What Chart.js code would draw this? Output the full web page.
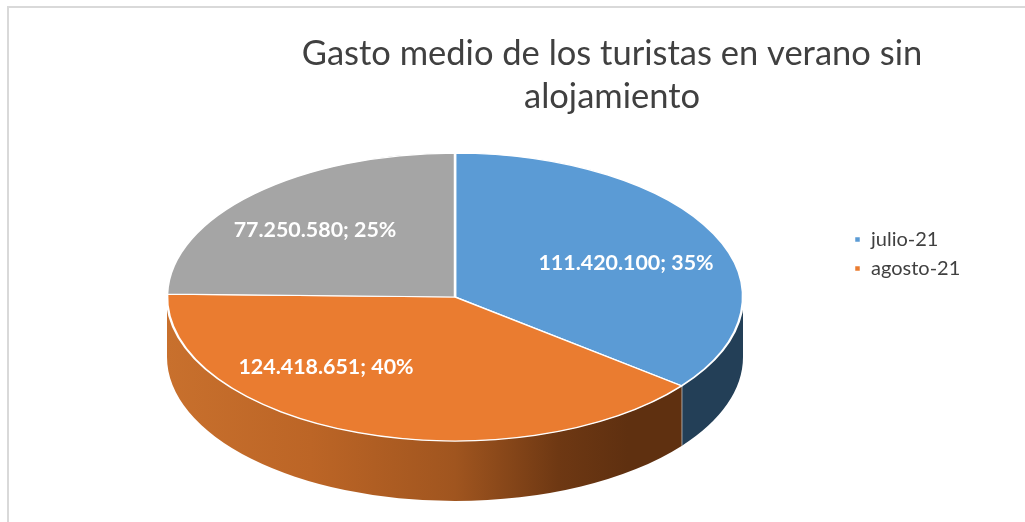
<!DOCTYPE html>
<html>
<head>
<meta charset="utf-8">
<title>Gasto medio de los turistas</title>
<style>
    html, body { margin: 0; background: #fff; }
    canvas { display: block; }
</style>
<script src="https://cdn.jsdelivr.net/npm/chart.js@4/dist/chart.umd.min.js"></script>
</head>
<body>
<canvas id="chart" width="1025" height="522"></canvas>
<script>
// data
const categories = ["julio-21", "agosto-21", "septiembre-21"];
const values = [111420100, 124418651, 77250580];
const percents = [35, 40, 25];   // as printed on the source chart
const titleLines = ["Gasto medio de los turistas en verano sin", "alojamiento"];

// styles
const topColors = ["#5B9BD5", "#EA7C30", "#A5A5A5"];
const FONT = "Lato";
const CX = 455, CY = 297, RX = 288, TILT = 0.5, DEPTH = 60;
const labelAt = [[626, 263], [326, 367], [315, 230]];

const fmt = v => String(v).replace(/\B(?=(\d{3})+$)/g, ".");

// ─── side wall colour per slice ───────────────────────────────────
function sideFill(ctx, i) {
    if (i === 0) return "#233F57";
    if (i === 2) return "#63636A";
    const g = ctx.createLinearGradient(CX - RX, 0, CX + RX, 0);
    g.addColorStop(0, "#C8702D");
    g.addColorStop(0.25, "#BC6526");
    g.addColorStop(0.5, "#A0551F");
    g.addColorStop(0.68, "#6E3813");
    g.addColorStop(0.8, "#5F3010");
    g.addColorStop(1, "#5F3010");
    return g;
}

// ─── Tilted3DPlugin ───────────────────────────────────────────────
const Tilted3DPlugin = {
    id: "tilted3d",
    beforeDraw(chart) {
        const { ctx } = chart;
        ctx.save();
        ctx.fillStyle = "#fff";
        ctx.fillRect(0, 0, chart.width, chart.height);
        ctx.fillStyle = "#D9D9D9";
        ctx.fillRect(7, 6, chart.width - 7, 2);
        ctx.fillRect(7, 6, 2, chart.height - 6);
        ctx.restore();
    },
    afterLayout(chart) {
        // title sits right of the canvas centre, legend is above the pie centre
        chart.titleBlock.left = 200;
        chart.titleBlock.right = 1024;
        chart.titleBlock.top = 32;
        const h = chart.legend.bottom - chart.legend.top;
        chart.legend.left = 845;
        chart.legend.top = 254 - h / 2;
        chart.legend.bottom = 254 + h / 2;
        chart.chartArea.left = CX - RX;
        chart.chartArea.right = CX + RX;
        chart.chartArea.top = CY - RX;
        chart.chartArea.bottom = CY + RX;
        chart.chartArea.width = RX * 2;
        chart.chartArea.height = RX * 2;
    },
    beforeDatasetsDraw(chart) {
        const { ctx } = chart;
        const ry = RX * TILT;
        const arcs = chart.getDatasetMeta(0).data;

        // side walls, only the front half of the ellipse shows
        arcs.forEach((arc, i) => {
            const a0 = Math.max(arc.startAngle, 0);
            const a1 = Math.min(arc.endAngle, Math.PI);
            if (a1 <= a0) return;
            ctx.beginPath();
            ctx.ellipse(CX, CY, RX, ry, 0, a0, a1);
            ctx.ellipse(CX, CY + DEPTH, RX, ry, 0, a1, a0, true);
            ctx.closePath();
            ctx.fillStyle = sideFill(ctx, i);
            ctx.fill();
            if (arc.endAngle > 0 && arc.endAngle < Math.PI - 0.05) {
                const x = CX + RX * Math.cos(arc.endAngle);
                const y = CY + ry * Math.sin(arc.endAngle);
                ctx.beginPath();
                ctx.moveTo(x, y);
                ctx.lineTo(x, y + DEPTH);
                ctx.strokeStyle = "#C9C9C9";
                ctx.lineWidth = 1.5;
                ctx.stroke();
            }
        });

        // squash the flat pie into the top face
        ctx.save();
        ctx.translate(CX, CY);
        ctx.scale(1, TILT);
        ctx.translate(-CX, -CY);
    },
    afterDatasetsDraw(chart) {
        const { ctx } = chart;
        ctx.restore();

        ctx.save();
        ctx.font = "bold 21.4px " + FONT;
        ctx.fillStyle = "#fff";
        ctx.textAlign = "center";
        ctx.textBaseline = "middle";
        values.forEach((v, i) => {
            ctx.fillText(fmt(v) + "; " + percents[i] + "%", labelAt[i][0], labelAt[i][1]);
        });
        ctx.restore();
    },
};

new Chart(document.getElementById("chart"), {
    type: "pie",
    plugins: [Tilted3DPlugin],
    data: {
        labels: categories,
        datasets: [{
            data: values,
            backgroundColor: topColors,
            borderColor: "#fff",
            borderWidth: 2.5,
        }],
    },
    options: {
        responsive: false,
        animation: false,
        radius: RX,
        plugins: {
            tooltip: { enabled: false },
            title: {
                display: true,
                text: titleLines,
                color: "#404040",
                font: { family: FONT, size: 34.5, weight: "normal", lineHeight: 1.25 },
                padding: 0,
            },
            legend: {
                position: "right",
                labels: {
                    filter: item => item.index < 2,
                    boxWidth: 7,
                    boxHeight: 7,
                    padding: 9,
                    color: "#404040",
                    font: { family: FONT, size: 20 },
                },
            },
        },
    },
});
</script>
</body>
</html>
